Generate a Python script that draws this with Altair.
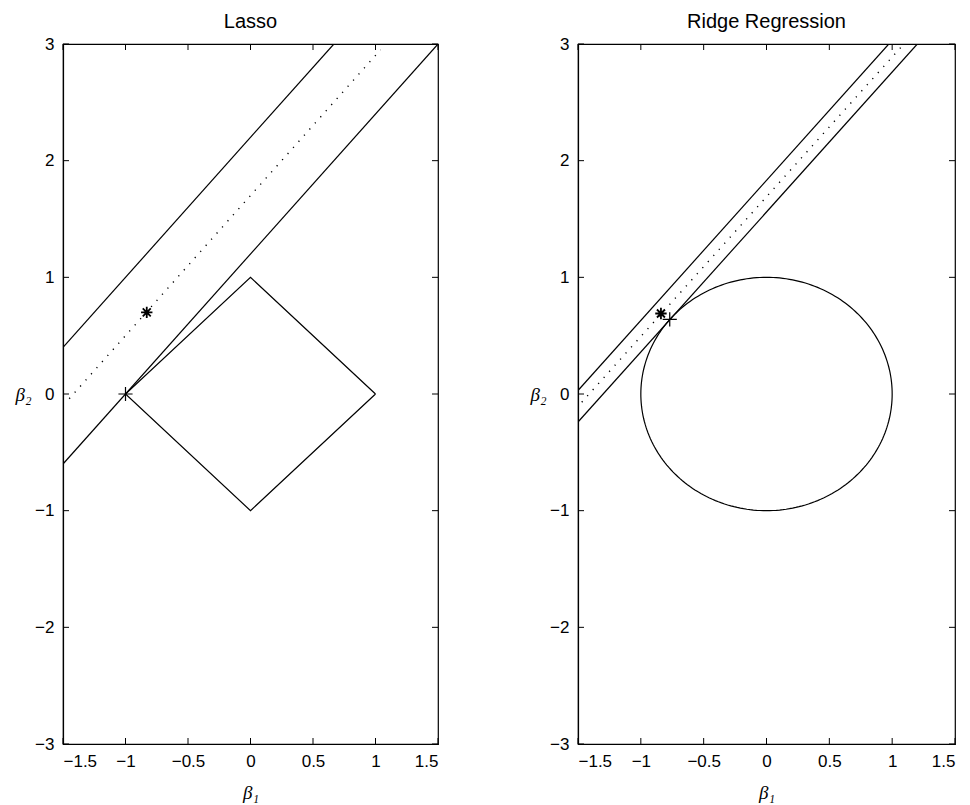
import altair as alt
import pandas as pd
import numpy as np

# ---- data ----
x_ticks = [-1.5, -1, -0.5, 0, 0.5, 1, 1.5]
y_ticks = [-3, -2, -1, 0, 1, 2, 3]

# Lasso panel
lasso_upper_x = [-1.5, 0.667]
lasso_upper_y = [0.4, 3.0]
lasso_lower_x = [-1.5, 1.5]
lasso_lower_y = [-0.6, 3.0]
lasso_dot_x = [-1.45, 1.04]
lasso_dot_y = [-0.04, 2.95]
diamond_x = [1, 0, -1, 0, 1]
diamond_y = [0, 1, 0, -1, 0]
lasso_star = (-0.83, 0.70)
lasso_plus = (-1.0, 0.0)

# Ridge panel
ridge_upper_x = [-1.5, 0.973]
ridge_upper_y = [0.03, 3.0]
ridge_lower_x = [-1.5, 1.2]
ridge_lower_y = [-0.24, 3.0]
ridge_dot_x = [-1.47, 1.085]
ridge_dot_y = [-0.07, 2.99]
circle_radius = 1.0
ridge_star = (-0.84, 0.69)
ridge_plus = (-0.77, 0.64)

W_L, W_R, H = 375, 377, 700
TICK = 6

xs = alt.Scale(domain=[-1.5, 1.5], nice=False, zero=False)
ys = alt.Scale(domain=[-3, 3], nice=False, zero=False)

x_axis = alt.Axis(values=x_ticks, format="~g", title="β₁", titlePadding=14, labelPadding=9)
y_axis = alt.Axis(values=y_ticks, format="~g", title="β₂", titleAngle=0, labelPadding=9,
                  titleAlign="right", titleBaseline="middle", titleX=-32, titleY=H / 2)

X = alt.X("x:Q", scale=xs, axis=x_axis)
Y = alt.Y("y:Q", scale=ys, axis=y_axis)

STAR = "M-1,0L1,0M0,-1L0,1M-0.7,-0.7L0.7,0.7M-0.7,0.7L0.7,-0.7"
PLUS = "M-1,0L1,0M0,-1L0,1"


def lines_df(pairs):
    rows = []
    for name, xs_, ys_ in pairs:
        for i, (a, b) in enumerate(zip(xs_, ys_)):
            rows.append({"series": name, "order": i, "x": a, "y": b})
    return pd.DataFrame(rows)


def panel(title, width, solid_pairs, dot_x, dot_y, shape_x, shape_y, star, plus):
    solid = alt.Chart(lines_df(solid_pairs)).mark_line(
        color="black", strokeWidth=1.2, clip=True
    ).encode(x=X, y=Y, detail="series:N", order="order:Q")
    dotted = alt.Chart(pd.DataFrame({"x": dot_x, "y": dot_y, "order": range(len(dot_x))})).mark_line(
        color="black", strokeWidth=1.4, strokeDash=[1.2, 7]
    ).encode(x=X, y=Y, order="order:Q")
    shape = alt.Chart(pd.DataFrame({"x": shape_x, "y": shape_y, "order": range(len(shape_x))})).mark_line(
        color="black", strokeWidth=1.2
    ).encode(x=X, y=Y, order="order:Q")
    star_m = alt.Chart(pd.DataFrame({"x": [star[0]], "y": [star[1]]})).mark_point(
        shape=STAR, size=130, filled=False, color="black", strokeWidth=1.8, opacity=1
    ).encode(x=X, y=Y)
    plus_m = alt.Chart(pd.DataFrame({"x": [plus[0]], "y": [plus[1]]})).mark_point(
        shape=PLUS, size=200, filled=False, color="black", strokeWidth=1.2, opacity=1
    ).encode(x=X, y=Y)
    xt = pd.DataFrame({"x": x_ticks})
    yt = pd.DataFrame({"y": y_ticks})
    t_top = alt.Chart(xt).mark_rule(color="black").encode(x=X, y=alt.value(0), y2=alt.value(TICK))
    t_bot = alt.Chart(xt).mark_rule(color="black").encode(x=X, y=alt.value(H - TICK), y2=alt.value(H))
    t_left = alt.Chart(yt).mark_rule(color="black").encode(y=Y, x=alt.value(0), x2=alt.value(TICK))
    t_right = alt.Chart(yt).mark_rule(color="black").encode(y=Y, x=alt.value(width - TICK), x2=alt.value(width))
    return alt.layer(solid, dotted, shape, star_m, plus_m, t_top, t_bot, t_left, t_right).properties(
        width=width, height=H,
        title=alt.TitleParams(title, font="Liberation Sans", fontSize=20, fontWeight="normal",
                              color="black", offset=3),
    )


theta = np.linspace(0, 2 * np.pi, 241)
circ_x = list(circle_radius * np.cos(theta))
circ_y = list(circle_radius * np.sin(theta))

left = panel("Lasso", W_L,
             [("upper", lasso_upper_x, lasso_upper_y), ("lower", lasso_lower_x, lasso_lower_y)],
             lasso_dot_x, lasso_dot_y, diamond_x, diamond_y, lasso_star, lasso_plus)
right = panel("Ridge Regression", W_R,
              [("upper", ridge_upper_x, ridge_upper_y), ("lower", ridge_lower_x, ridge_lower_y)],
              ridge_dot_x, ridge_dot_y, circ_x, circ_y, ridge_star, ridge_plus)

chart = alt.hconcat(left, right, spacing=89).properties(
    padding={"left": 6, "top": 3, "right": 0, "bottom": 0}, background="white"
).configure_view(stroke="black", strokeWidth=1.2).configure_axis(
    ticks=False, grid=False, labelFont="Liberation Sans", labelFontSize=17,
    labelColor="black", domainColor="black", domainWidth=1.2,
    titleFont="Liberation Serif", titleFontStyle="italic", titleFontWeight="normal",
    titleFontSize=19, titleColor="black",
)

chart.save("out.html", embed_options={"renderer": "svg", "actions": False})
